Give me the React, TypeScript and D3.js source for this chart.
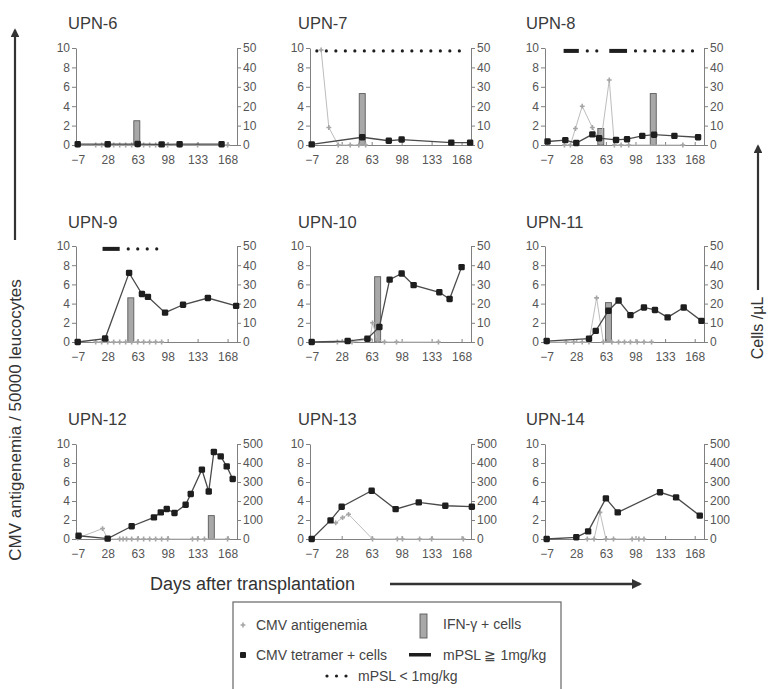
import * as React from 'react';
import * as d3 from 'd3';

const WIDTH = 770;
const HEIGHT = 689;
const FONT = '"Liberation Sans", Arial, sans-serif';

const dayDomain = [-9, 179];
const dayTicks = [-7, 28, 63, 98, 133, 168];
const leftTicks = [0, 2, 4, 6, 8, 10];
const rightTicksSmall = [0, 10, 20, 30, 40, 50];
const rightTicksLarge = [0, 100, 200, 300, 400, 500];

// [day, value]; antigenemia on the left axis, tetramer and IFN-g on the right axis
const upn6Antigen = [[-7, 0], [14, 0], [21, 0], [28, 0], [35, 0], [42, 0], [49, 0], [56, 0], [63, 0], [70, 0], [77, 0], [84, 0], [98, 0], [112, 0], [133, 0], [168, 0]];
const upn6Tetramer = [[-7, 0.4], [28, 0.4], [63, 0.5], [91, 0.3], [112, 0.4], [161, 0.4]];
const upn6Ifn = [[62, 12.5]];

const upn7Antigen = [[4, 9.8], [13, 1.8], [24, 0], [38, 0], [48, 0], [56, 0]];
const upn7Tetramer = [[-7, 0.3], [52, 4], [83, 2.2], [98, 2.8], [156, 1.2], [178, 1.2]];
const upn7Ifn = [[52, 26.5]];
const upn7Low = [[-1, 172]];

const upn8Antigen = [[14, 0], [21, 0], [27, 1.7], [35, 4.0], [47, 1.8], [57, 0.3], [67, 6.7], [73, 0], [81, 0], [90, 0], [154, 0]];
const upn8Tetramer = [[-6, 1.8], [15, 2.5], [28, 1.0], [47, 5.5], [55, 3.5], [75, 2.6], [88, 3.0], [106, 4.7], [120, 5.3], [144, 4.7], [172, 4.0]];
const upn8Ifn = [[57, 8.5], [119, 26.5]];
const upn8High = [[13, 31], [67, 88]];
const upn8Low = [[41, 53], [98, 168]];

const upn9Antigen = [[14, 0], [21, 0], [28, 0], [35, 0], [42, 0], [49, 0], [56, 0], [63, 0], [70, 0], [77, 0], [84, 0], [91, 0]];
const upn9Tetramer = [[-7, 0], [25, 1.8], [53, 36], [68, 25], [75, 23.5], [95, 15.3], [116, 19.4], [145, 22.9], [178, 18.8]];
const upn9Ifn = [[55, 23]];
const upn9High = [[22, 42]];
const upn9Low = [[52, 88]];

const upn10Antigen = [[23, 0], [40, 0], [61, 0.3], [64, 2.0], [70, 0.2], [78, 0], [92, 0], [141, 0]];
const upn10Tetramer = [[-7, 0], [35, 0.5], [58, 1.7], [72, 7.8], [84, 32.5], [98, 35.7], [112, 29.6], [142, 25.9], [154, 22.4], [168, 39]];
const upn10Ifn = [[70, 34]];

const upn11Antigen = [[-7, 0], [16, 0], [25, 0], [35, 0], [43, 0], [52, 4.6], [60, 0], [70, 0], [78, 0], [85, 0], [92, 0], [100, 0], [108, 0], [117, 0]];
const upn11Tetramer = [[-7, 0.5], [43, 1.7], [51, 5.8], [66, 16.3], [78, 21.6], [92, 14], [108, 18], [121, 16.7], [136, 12.8], [155, 18], [176, 11]];
const upn11Ifn = [[66, 20.5]];

const upn12Antigen = [[-7, 0.1], [22, 1.1], [28, 0], [42, 0], [46, 0], [50, 0], [56, 0], [63, 0], [70, 0], [77, 0], [84, 0], [91, 0], [98, 0], [127, 0], [133, 0], [141, 0], [168, 0]];
const upn12Tetramer = [[-6, 17], [28, 2], [56, 67], [82, 114], [90, 140], [97, 158], [106, 137], [119, 180], [125, 237], [138, 365], [146, 250], [152, 458], [160, 435], [167, 382], [174, 316]];
const upn12Ifn = [[149, 123]];

const upn13Antigen = [[21, 1.7], [29, 2.25], [36, 2.6], [64, 0], [93, 0], [99, 0], [119, 0], [133, 0], [170, 0]];
const upn13Tetramer = [[-7, 0], [15, 98], [28, 170], [63, 254], [91, 157], [118, 193], [149, 175], [180, 170]];

const upn14Antigen = [[41, 0], [49, 0], [56, 2.8], [63, 0], [72, 0], [94, 0], [102, 0], [108, 0]];
const upn14Tetramer = [[-7, 0], [28, 9], [42, 40], [63, 214], [77, 140], [127, 246], [146, 219], [174, 123]];

const panels = [
  { name: 'UPN-6', col: 0, row: 0, right: rightTicksSmall, antigen: upn6Antigen, tetramer: upn6Tetramer, ifn: upn6Ifn, high: [], low: [] },
  { name: 'UPN-7', col: 1, row: 0, right: rightTicksSmall, antigen: upn7Antigen, tetramer: upn7Tetramer, ifn: upn7Ifn, high: [], low: upn7Low },
  { name: 'UPN-8', col: 2, row: 0, right: rightTicksSmall, antigen: upn8Antigen, tetramer: upn8Tetramer, ifn: upn8Ifn, high: upn8High, low: upn8Low },
  { name: 'UPN-9', col: 0, row: 1, right: rightTicksSmall, antigen: upn9Antigen, tetramer: upn9Tetramer, ifn: upn9Ifn, high: upn9High, low: upn9Low },
  { name: 'UPN-10', col: 1, row: 1, right: rightTicksSmall, antigen: upn10Antigen, tetramer: upn10Tetramer, ifn: upn10Ifn, high: [], low: [] },
  { name: 'UPN-11', col: 2, row: 1, right: rightTicksSmall, antigen: upn11Antigen, tetramer: upn11Tetramer, ifn: upn11Ifn, high: [], low: [] },
  { name: 'UPN-12', col: 0, row: 2, right: rightTicksLarge, antigen: upn12Antigen, tetramer: upn12Tetramer, ifn: upn12Ifn, high: [], low: [] },
  { name: 'UPN-13', col: 1, row: 2, right: rightTicksLarge, antigen: upn13Antigen, tetramer: upn13Tetramer, ifn: [], high: [], low: [] },
  { name: 'UPN-14', col: 2, row: 2, right: rightTicksLarge, antigen: upn14Antigen, tetramer: upn14Tetramer, ifn: [], high: [], low: [] },
];

const cols = [
  { left: 76, right: 237, title: 68 },
  { left: 310, right: 471, title: 298 },
  { left: 545, right: 704, title: 526 },
];
const rows = [
  { top: 48, bottom: 145, title: 29 },
  { top: 246, bottom: 342, title: 228 },
  { top: 444, bottom: 539, title: 425 },
];

const AXIS = '#808080';
const TEXT = '#555';
const INK = '#1e1e1e';

function styleAxis(sel) {
  sel.attr('font-family', FONT).attr('font-size', 12);
  sel.select('.domain').attr('stroke', AXIS).attr('stroke-width', 1);
  sel.selectAll('.tick line').attr('stroke', AXIS);
  sel.selectAll('.tick text').attr('fill', TEXT);
}

function drawPanel(root, p) {
  const c = cols[p.col];
  const r = rows[p.row];
  const rMax = p.right[p.right.length - 1];
  const x = d3.scaleLinear().domain(dayDomain).range([c.left, c.right]);
  const yL = d3.scaleLinear().domain([0, 10]).range([r.bottom, r.top]);
  const yR = d3.scaleLinear().domain([0, rMax]).range([r.bottom, r.top]);
  const g = root.append('g');

  g.append('text')
    .attr('x', c.title).attr('y', r.title)
    .attr('font-family', FONT).attr('font-size', 16.5).attr('fill', '#3a3a3a')
    .text(p.name);

  // bars behind everything
  g.selectAll('rect.ifn').data(p.ifn).join('rect')
    .attr('class', 'ifn')
    .attr('x', d => x(d[0]) - 3)
    .attr('width', 6)
    .attr('y', d => yR(d[1]))
    .attr('height', d => r.bottom - yR(d[1]))
    .attr('fill', '#a8a8a8').attr('stroke', '#5a5a5a').attr('stroke-width', 0.9);

  styleAxis(g.append('g').attr('transform', `translate(0,${r.bottom})`)
    .call(d3.axisBottom(x).tickValues(dayTicks).tickSizeInner(-3).tickSizeOuter(0).tickPadding(10)));
  styleAxis(g.append('g').attr('transform', `translate(${c.left},0)`)
    .call(d3.axisLeft(yL).tickValues(leftTicks).tickSizeInner(4).tickSizeOuter(0).tickPadding(2)));
  styleAxis(g.append('g').attr('transform', `translate(${c.right},0)`)
    .call(d3.axisRight(yR).tickValues(p.right).tickSizeInner(4).tickSizeOuter(0).tickPadding(2)));

  // antigenemia
  const lineL = d3.line().x(d => x(d[0])).y(d => yL(d[1]));
  g.append('path').datum(p.antigen)
    .attr('d', lineL).attr('fill', 'none').attr('stroke', '#bdbdbd').attr('stroke-width', 1);
  g.selectAll('path.ag').data(p.antigen).join('path')
    .attr('class', 'ag')
    .attr('transform', d => `translate(${x(d[0])},${yL(d[1])})`)
    .attr('d', d3.symbol(d3.symbolCross, 13))
    .attr('fill', '#a5a5a5');

  // tetramer
  const lineR = d3.line().x(d => x(d[0])).y(d => yR(d[1]));
  g.append('path').datum(p.tetramer)
    .attr('d', lineR).attr('fill', 'none').attr('stroke', '#4a4a4a').attr('stroke-width', 1.3);
  g.selectAll('rect.tt').data(p.tetramer).join('rect')
    .attr('class', 'tt')
    .attr('x', d => x(d[0]) - 3.2).attr('y', d => yR(d[1]) - 3.2)
    .attr('width', 6.4).attr('height', 6.4).attr('rx', 1.4)
    .attr('fill', INK);

  // mPSL
  const yM = yL(9.7);
  g.selectAll('rect.hi').data(p.high).join('rect')
    .attr('class', 'hi')
    .attr('x', d => x(d[0])).attr('width', d => x(d[1]) - x(d[0]))
    .attr('y', yM - 2).attr('height', 4).attr('fill', INK);
  g.selectAll('line.lo').data(p.low).join('line')
    .attr('class', 'lo')
    .attr('x1', d => x(d[0])).attr('x2', d => x(d[1]) + 1)
    .attr('y1', yM).attr('y2', yM)
    .attr('stroke', INK).attr('stroke-width', 3.2)
    .attr('stroke-linecap', 'round').attr('stroke-dasharray', '0,9.5');
}

export default function App() {
  const ref = React.useRef(null);

  React.useEffect(() => {
    const svg = d3.select(ref.current);
    svg.selectAll('*').remove();

    svg.append('defs').append('marker')
      .attr('id', 'head').attr('viewBox', '0 0 10 10')
      .attr('refX', 8).attr('refY', 5)
      .attr('markerWidth', 4).attr('markerHeight', 4)
      .attr('orient', 'auto')
      .append('path').attr('d', 'M0,0L10,5L0,10z').attr('fill', '#333');

    panels.forEach(p => drawPanel(svg, p));

    // left label + arrow
    svg.append('line')
      .attr('x1', 15).attr('x2', 15).attr('y1', 240).attr('y2', 30)
      .attr('stroke', '#333').attr('stroke-width', 2.2).attr('marker-end', 'url(#head)');
    svg.append('text')
      .attr('transform', 'translate(21,420) rotate(-90)')
      .attr('text-anchor', 'middle')
      .attr('font-family', FONT).attr('font-size', 17).attr('fill', '#333')
      .text('CMV antigenemia / 50000 leucocytes');

    // right label + arrow
    svg.append('line')
      .attr('x1', 758).attr('x2', 758).attr('y1', 290).attr('y2', 146)
      .attr('stroke', '#333').attr('stroke-width', 2.2).attr('marker-end', 'url(#head)');
    svg.append('text')
      .attr('transform', 'translate(763,328) rotate(-90)')
      .attr('text-anchor', 'middle')
      .attr('font-family', FONT).attr('font-size', 16).attr('fill', '#333')
      .text('Cells /\u00b5L');

    // bottom label + arrow
    svg.append('text')
      .attr('x', 150).attr('y', 590)
      .attr('font-family', FONT).attr('font-size', 18).attr('fill', '#333')
      .text('Days after transplantation');
    svg.append('line')
      .attr('x1', 390).attr('x2', 640).attr('y1', 584).attr('y2', 584)
      .attr('stroke', '#333').attr('stroke-width', 2.5).attr('marker-end', 'url(#head)');

    // legend
    const lg = svg.append('g').attr('font-family', FONT).attr('font-size', 14).attr('fill', '#444');
    lg.append('rect').attr('x', 233).attr('y', 602).attr('width', 328).attr('height', 120)
      .attr('fill', 'none').attr('stroke', '#666').attr('stroke-width', 1.2);
    lg.append('path').attr('transform', 'translate(243,625)')
      .attr('d', d3.symbol(d3.symbolCross, 13)).attr('fill', '#a5a5a5');
    lg.append('text').attr('x', 256).attr('y', 630).text('CMV antigenemia');
    lg.append('rect').attr('x', 420).attr('y', 614).attr('width', 7).attr('height', 24)
      .attr('fill', '#a8a8a8').attr('stroke', '#5a5a5a').attr('stroke-width', 0.9);
    lg.append('text').attr('x', 443).attr('y', 629).text('IFN-\u03b3 + cells');
    lg.append('rect').attr('x', 240).attr('y', 652).attr('width', 6).attr('height', 6).attr('rx', 1).attr('fill', INK);
    lg.append('text').attr('x', 256).attr('y', 660).text('CMV tetramer + cells');
    lg.append('rect').attr('x', 409).attr('y', 653).attr('width', 22).attr('height', 3.5).attr('fill', INK);
    lg.append('text').attr('x', 443).attr('y', 660).text('mPSL \u2267 1mg/kg');
    lg.selectAll('circle.ld').data([0, 1, 2]).join('circle')
      .attr('class', 'ld')
      .attr('cx', i => 327 + i * 9.5).attr('cy', 676).attr('r', 1.6).attr('fill', INK);
    lg.append('text').attr('x', 358).attr('y', 681).text('mPSL < 1mg/kg');
  }, []);

  return (
    <svg ref={ref} width={WIDTH} height={HEIGHT}
      style={{ position: 'absolute', left: 0, top: 0, background: '#fff' }} />
  );
}
